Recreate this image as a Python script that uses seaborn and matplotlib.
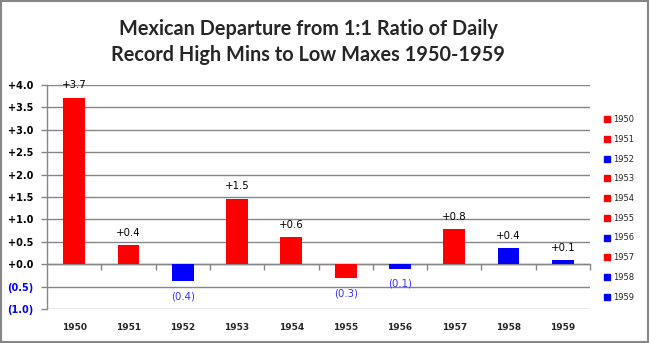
import matplotlib
matplotlib.use("Agg")
import matplotlib.pyplot as plt
from matplotlib.lines import Line2D
from matplotlib.patches import Rectangle
import seaborn as sns
import pandas as pd

years = ["1950", "1951", "1952", "1953", "1954", "1955", "1956", "1957", "1958", "1959"]
values = [3.72, 0.42, -0.37, 1.46, 0.60, -0.31, -0.10, 0.78, 0.36, 0.09]
bar_colors = ["#FF0000", "#FF0000", "#0000FF", "#FF0000", "#FF0000", "#FF0000",
              "#0000FF", "#FF0000", "#0000FF", "#0000FF"]
title = "Mexican Departure from 1:1 Ratio of Daily\nRecord High Mins to Low Maxes 1950-1959"
yticks = [-1.0, -0.5, 0.0, 0.5, 1.0, 1.5, 2.0, 2.5, 3.0, 3.5, 4.0]

def fmt(v):
    return f"+{v:.1f}" if v >= 0 else f"({abs(v):.1f})"

df = pd.DataFrame({"year": years, "value": values, "color": bar_colors})

sns.set_style("white")
W, H = 651, 343
fig = plt.figure(figsize=(W / 100, H / 100), dpi=100)
ax = fig.add_axes([47 / W, 1 - 309 / H, (590 - 47) / W, (309 - 85) / H])

sns.barplot(data=df, x="year", y="value", hue="year",
            palette=dict(zip(years, bar_colors)), width=0.4,
            legend=False, ax=ax, saturation=1, linewidth=0, edgecolor="none")

grid_c = "#868686"
ax.set_ylim(-1.0, 4.0)
ax.set_xlim(-0.5, len(years) - 0.5)
ax.set_yticks(yticks)
ax.set_yticklabels([fmt(t) for t in yticks])
for lab, t in zip(ax.get_yticklabels(), yticks):
    lab.set_color("black" if t >= 0 else "#0000FF")
    lab.set_fontweight("bold")
    lab.set_fontsize(7)
ax.yaxis.grid(True, color=grid_c, linewidth=1)
ax.set_axisbelow(True)
ax.tick_params(axis="y", length=4, width=1, color=grid_c, pad=6, direction="out", left=True)
ax.tick_params(axis="x", length=0, pad=10)
for lab in ax.get_xticklabels():
    lab.set_fontweight("bold")
    lab.set_fontsize(6.5)
ax.set_xlabel("")
ax.set_ylabel("")
for s in ["top", "right", "bottom"]:
    ax.spines[s].set_visible(False)
ax.spines["left"].set_color(grid_c)
ax.spines["left"].set_linewidth(1)

# category axis crossing at zero with boundary tick marks
zero_frac = (0 - (-1.0)) / (4.0 - (-1.0))
sec = ax.secondary_xaxis(zero_frac)
sec.set_xticks([i + 0.5 for i in range(len(years))])
sec.set_xticklabels([])
sec.tick_params(axis="x", length=4, width=1, color=grid_c, direction="out")
sec.spines["bottom"].set_color(grid_c)
sec.spines["bottom"].set_linewidth(1)

for i, v in enumerate(values):
    if v >= 0:
        ax.annotate(fmt(v), (i, v), xytext=(0, 9), textcoords="offset points",
                    ha="center", va="center", fontsize=7.3, color="black")
    else:
        ax.annotate(fmt(v), (i, v), xytext=(0, -11), textcoords="offset points",
                    ha="center", va="center", fontsize=7.3, color="#3333FF")

fig.text(308 / W, 1 - 42 / H, title, ha="center", va="center",
         fontsize=14.3, fontweight="bold", family="Lato", linespacing=1.35)

handles = [Line2D([], [], marker="s", linestyle="", color=c, markersize=4) for c in bar_colors]
fig.legend(handles, years, loc="upper left", bbox_to_anchor=(604 / W, 1 - 115 / H),
           frameon=False, fontsize=6, handlelength=0.8, handletextpad=0.3,
           labelspacing=1.29, borderpad=0, borderaxespad=0)

fig.add_artist(Rectangle((0.5 / W, 1.5 / H), 647 / W, 340.5 / H, transform=fig.transFigure,
                         fill=False, edgecolor=grid_c, linewidth=1.5))

fig.savefig("out.png", dpi=100)
